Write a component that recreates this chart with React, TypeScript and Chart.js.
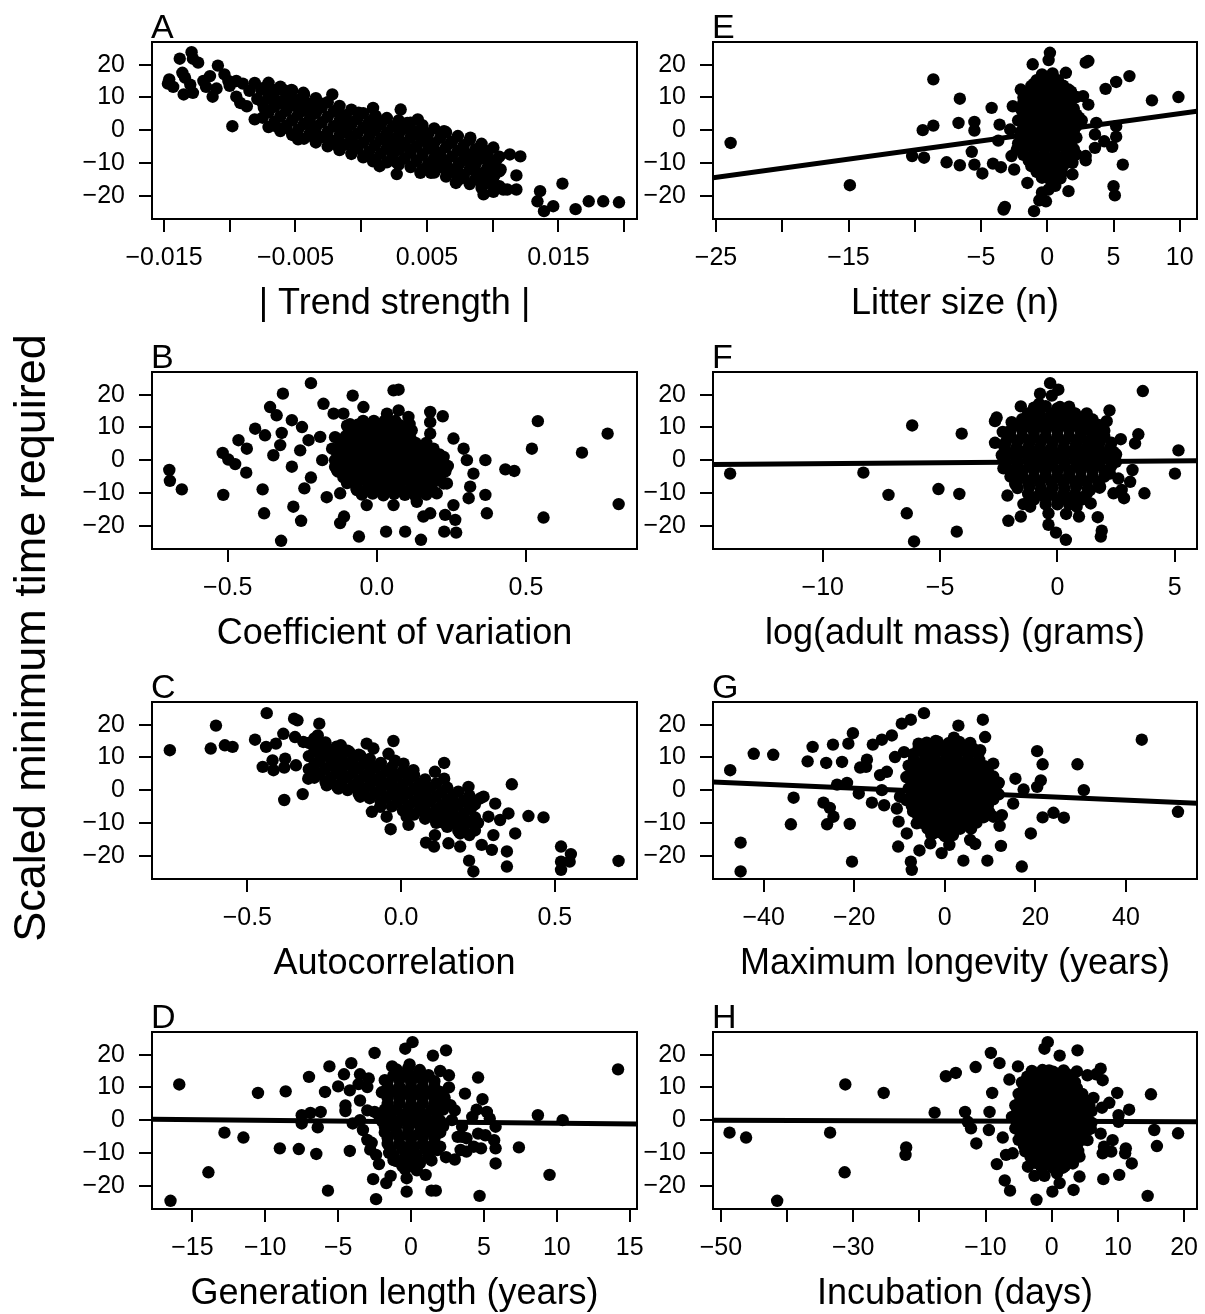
import React, { useEffect, useRef } from "react";
import { Chart, registerables } from "chart.js";

Chart.register(...registerables);

const FONT = "'Liberation Sans', Arial, Helvetica, sans-serif";

// ---------- shared y axis ----------
const yTickValues = [-20, -10, 0, 10, 20];
const yTickLabels = ["\u221220", "\u221210", "0", "10", "20"];
const yLabel = "Scaled minimum time required";

// ---------- Panel A : | Trend strength | ----------
const trendTicks = [-0.015, -0.01, -0.005, 0, 0.005, 0.01, 0.015, 0.02];
const trendTickLabels = ["\u22120.015", "", "\u22120.005", "", "0.005", "", "0.015", ""];
const trendPts: number[][] = [
  [-0.0138, 21.8], [-0.0129, 23.8], [-0.0128, 21.8], [-0.0124, 20.6], [-0.0109, 19.7],
  [-0.0146, 15.5], [-0.0147, 14.2], [-0.0143, 13.2], [-0.0136, 17.5], [-0.0134, 16.0],
  [-0.013, 13.9], [-0.0135, 10.9], [-0.0128, 11.4], [-0.0118, 13.2], [-0.0113, 10.2],
  [-0.011, 12.7], [-0.0104, 17.0], [-0.0101, 15.0], [-0.0095, 15.0], [-0.009, 14.2],
  [-0.0081, 14.4], [-0.0076, 12.3], [-0.0095, 10.2], [-0.0092, 8.3], [-0.0087, 7.3],
  [-0.0079, 9.5], [-0.0074, 6.8], [-0.0081, 3.3], [-0.0098, 1.2], [-0.0065, 12.3],
  [-0.0059, 12.3], [-0.0053, 12.3], [-0.0068, 9.4], [-0.0062, 8.3], [-0.0065, 1.2],
  [-0.0057, 0.7], [-0.0048, -2.8], [-0.0036, -2.3], [-0.0044, 11.4], [-0.0047, 6.3],
  [-0.0036, 7.3], [-0.003, 8.1], [-0.0022, 10.9], [-0.0018, 6.3], [-0.0016, 1.2],
  [-0.0018, -4.7], [-0.0011, 3.3], [-0.0005, -4.4], [-0.0002, 5.3], [0.0009, 6.8],
  [0.0011, 4.3], [0.0004, 1.2], [0.0014, 1.7], [0.0002, -8.0], [0.0009, -9.5],
  [0.0014, -11.0], [0.0022, -5.9], [0.0027, -9.9], [0.003, 6.3], [0.0035, 2.2],
  [0.0043, 3.3], [0.004, -0.8], [0.0045, -13.0], [0.0053, -13.0], [0.005, -3.9],
  [0.0055, -5.9], [0.006, -7.9], [0.0063, -0.3], [0.0068, -3.9], [0.0072, -16.1],
  [0.0075, -10.0], [0.0079, -6.9], [0.0083, -2.3], [0.0085, -11.0], [0.0088, -14.0],
  [0.0093, -5.9], [0.0098, -10.0], [0.0101, -14.0], [0.0103, -8.9], [0.0106, -12.0],
  [0.0093, -19.6], [0.0091, -16.1], [0.0111, -18.1], [0.0113, -7.4], [0.0118, -18.1],
  [0.0118, -13.8], [0.0121, -8.0], [0.0134, -21.7], [0.0136, -18.6], [0.0139, -24.7],
  [0.0146, -23.2], [0.0153, -16.3], [0.0163, -24.1], [0.0173, -21.7], [0.0184, -21.7],
  [0.0196, -22.0], [0.0027, -13.4], [-0.0049, -1.8], [-0.0039, 2.2], [-0.0026, -1.8],
  [-0.0008, -1.8], [0.002, -1.8], [0.0025, 1.2], [0.0032, -3.9], [0.0037, -5.9],
  [0.0045, -1.8], [0.0055, -10.0], [0.0065, -11.0], [0.0086, -7.9], [0.0096, -16.1],
  [0.0103, -17.1], [0.0108, -18.1],
  [-0.0058, 8.0], [-0.005, 9.0], [-0.0042, 6.0], [-0.007, 11.0], [-0.0085, 12.0],
  [-0.01, 13.5], [-0.012, 15.0], [-0.0115, 16.5], [-0.0045, 9.5], [-0.004, 8.0],
  [0.0072, -13.0], [0.0082, -9.0], [0.0095, -13.0], [0.01, -11.5], [0.0078, -14.5],
  // dense band
  [-0.0075, 12.8], [-0.0075, 8.3], [-0.0075, 3.8],
  [-0.0066, 11.6], [-0.0066, 7.1], [-0.0066, 2.6],
  [-0.0057, 10.4], [-0.0057, 5.9], [-0.0057, 1.4],
  [-0.0048, 9.2], [-0.0048, 4.7], [-0.0048, 0.2],
  [-0.0039, 8.1], [-0.0039, 3.6], [-0.0039, -0.9],
  [-0.003, 6.9], [-0.003, 2.4], [-0.003, -2.1],
  [-0.0021, 5.7], [-0.0021, 1.2], [-0.0021, -3.3],
  [-0.0012, 4.6], [-0.0012, 0.1], [-0.0012, -4.4],
  [-0.0003, 3.4], [-0.0003, -1.1], [-0.0003, -5.6],
  [0.0006, 2.5], [0.0006, -2.0], [0.0006, -6.5],
  [0.0015, 1.8], [0.0015, -2.7], [0.0015, -7.2],
  [0.0024, 1.1], [0.0024, -3.4], [0.0024, -7.9],
  [0.0033, 0.4], [0.0033, -4.1], [0.0033, -8.6],
  [0.0042, -0.4], [0.0042, -4.9], [0.0042, -9.4],
  [0.0051, -1.1], [0.0051, -5.6], [0.0051, -10.1],
  [0.006, -2.3], [0.006, -6.8], [0.006, -11.3],
  [0.0069, -3.5], [0.0069, -8.0], [0.0069, -12.5],
  [0.0078, -4.6], [0.0078, -9.1], [0.0078, -13.6],
  [0.0087, -5.8], [0.0087, -10.3], [0.0087, -14.8],
  [0.0096, -7.0], [0.0096, -11.5], [0.0096, -16.0],
  [0.0105, -8.1], [0.0105, -12.6], [0.0105, -17.1],
  [-0.00705, 14.45], [-0.00705, 9.95], [-0.00705, 5.45], [-0.00705, 0.95],
  [-0.00615, 13.25], [-0.00615, 8.75], [-0.00615, 4.25], [-0.00615, -0.25],
  [-0.00525, 12.05], [-0.00525, 7.55], [-0.00525, 3.05], [-0.00525, -1.45],
  [-0.00435, 10.9], [-0.00435, 6.4], [-0.00435, 1.9], [-0.00435, -2.6],
  [-0.00345, 9.75], [-0.00345, 5.25], [-0.00345, 0.75], [-0.00345, -3.75],
  [-0.00255, 8.55], [-0.00255, 4.05], [-0.00255, -0.45], [-0.00255, -4.95],
  [-0.00165, 7.4], [-0.00165, 2.9], [-0.00165, -1.6], [-0.00165, -6.1],
  [-0.00075, 6.25], [-0.00075, 1.75], [-0.00075, -2.75], [-0.00075, -7.25],
  [0.00015, 5.2], [0.00015, 0.7], [0.00015, -3.8], [0.00015, -8.3],
  [0.00105, 4.4], [0.00105, -0.1], [0.00105, -4.6], [0.00105, -9.1],
  [0.00195, 3.7], [0.00195, -0.8], [0.00195, -5.3], [0.00195, -9.8],
  [0.00285, 3.0], [0.00285, -1.5], [0.00285, -6.0], [0.00285, -10.5],
  [0.00375, 2.25], [0.00375, -2.25], [0.00375, -6.75], [0.00375, -11.25],
  [0.00465, 1.5], [0.00465, -3.0], [0.00465, -7.5], [0.00465, -12.0],
  [0.00555, 0.55], [0.00555, -3.95], [0.00555, -8.45], [0.00555, -12.95],
  [0.00645, -0.65], [0.00645, -5.15], [0.00645, -9.65], [0.00645, -14.15],
  [0.00735, -1.8], [0.00735, -6.3], [0.00735, -10.8], [0.00735, -15.3],
  [0.00825, -2.95], [0.00825, -7.45], [0.00825, -11.95], [0.00825, -16.45],
  [0.00915, -4.15], [0.00915, -8.65], [0.00915, -13.15], [0.00915, -17.65],
  [0.01005, -5.3], [0.01005, -9.8], [0.01005, -14.3], [0.01005, -18.8],
];

// ---------- Panel B : Coefficient of variation ----------
const cvTicks = [-0.5, 0, 0.5];
const cvTickLabels = ["\u22120.5", "0.0", "0.5"];
const cvPts: number[][] = [
  [-0.696, -3.0], [-0.694, -6.3], [-0.654, -8.9], [-0.515, -10.6], [-0.517, 2.2],
  [-0.498, 0.2], [-0.475, -1.2], [-0.464, 6.1], [-0.436, 3.5], [-0.438, -3.8],
  [-0.408, 9.6], [-0.375, 7.6], [-0.358, 16.2], [-0.336, 13.7], [-0.315, 20.3],
  [-0.383, -8.9], [-0.378, -16.2], [-0.347, 1.5], [-0.324, 4.6], [-0.319, 8.3],
  [-0.321, -24.6], [-0.285, 12.2], [-0.28, -14.2], [-0.254, -18.5], [-0.285, -2.0],
  [-0.257, 3.0], [-0.243, -8.6], [-0.221, 23.5], [-0.221, -5.3], [-0.179, 17.2],
  [-0.183, 0.0], [-0.229, 6.1], [-0.251, 10.1], [-0.168, -11.3], [-0.123, -19.2],
  [-0.11, -17.2], [-0.081, 19.7], [-0.06, -23.3], [-0.045, 16.2], [-0.034, -13.7],
  [0.031, -21.8], [0.056, 21.3], [0.073, 21.5], [0.095, -21.8], [0.148, -24.3],
  [0.179, 14.7], [0.179, 11.6], [0.179, 8.1], [0.221, 13.4], [0.257, 6.6],
  [0.291, 3.5], [0.302, 0.0], [0.324, -4.1], [0.313, -8.1], [0.308, -11.6],
  [0.364, 0.0], [0.364, -10.6], [0.369, -16.2], [0.257, -13.7], [0.263, -18.2],
  [0.266, -22.1], [0.226, -21.8], [0.229, -16.7], [0.156, -17.2], [0.179, -16.2],
  [0.431, -2.8], [0.461, -3.3], [0.52, 3.5], [0.54, 11.9], [0.559, -17.5],
  [0.688, 2.3], [0.774, 8.1], [0.811, -13.4], [0.056, -13.7], [0.134, -12.7],
  [0.011, -7.1], [-0.145, 14.2], [-0.112, 14.2], [0.034, 14.2], [0.073, 15.2],
  [0.106, 13.2], [0.117, 9.1], [0.19, 3.5], [0.224, 1.0], [0.235, -7.1],
  [0.201, -10.1], [0.162, -9.1], [-0.067, -9.1], [-0.123, -10.1], [-0.134, -3.0],
  [-0.19, 7.1], [-0.09, 11], [0.11, 11], [-0.14, -2], [0.13, -11],
  // dense core
  [-0.1, 10.5], [-0.064, 10.8], [-0.028, 10.3], [0.008, 10.7], [0.044, 10.4], [0.08, 10.6],
  [-0.14, 7], [-0.104, 7.3], [-0.068, 6.8], [-0.032, 7.2], [0.004, 6.9], [0.04, 7.1], [0.076, 7], [0.112, 6.8],
  [-0.15, 3.5], [-0.114, 3.8], [-0.078, 3.3], [-0.042, 3.7], [-0.006, 3.4], [0.03, 3.6], [0.066, 3.5], [0.102, 3.3], [0.138, 3.7], [0.174, 3.4],
  [-0.14, 0], [-0.104, 0.3], [-0.068, -0.2], [-0.032, 0.2], [0.004, -0.1], [0.04, 0.1], [0.076, 0], [0.112, -0.2], [0.148, 0.2], [0.184, -0.1], [0.22, 0.1],
  [-0.13, -3.5], [-0.094, -3.2], [-0.058, -3.7], [-0.022, -3.3], [0.014, -3.6], [0.05, -3.4], [0.086, -3.5], [0.122, -3.7], [0.158, -3.3], [0.194, -3.6], [0.23, -3.4],
  [-0.1, -7], [-0.064, -6.7], [-0.028, -7.2], [0.008, -6.8], [0.044, -7.1], [0.08, -6.9], [0.116, -7], [0.152, -7.2], [0.188, -6.8], [0.224, -7.1],
  [-0.05, -10.5], [-0.014, -10.2], [0.022, -10.7], [0.058, -10.3], [0.094, -10.6], [0.13, -10.4], [0.166, -10.5],
  [-0.046, 12], [-0.01, 12], [0.026, 12], [0.062, 12],
  [-0.082, 8.75], [-0.046, 8.75], [-0.01, 8.75], [0.026, 8.75], [0.062, 8.75], [0.098, 8.75],
  [-0.122, 5.25], [-0.086, 5.25], [-0.05, 5.25], [-0.014, 5.25], [0.022, 5.25], [0.058, 5.25], [0.094, 5.25], [0.13, 5.25], [0.166, 5.25],
  [-0.132, 1.75], [-0.096, 1.75], [-0.06, 1.75], [-0.024, 1.75], [0.012, 1.75], [0.048, 1.75], [0.084, 1.75], [0.12, 1.75], [0.156, 1.75], [0.192, 1.75], [0.21, 1.75],
  [-0.122, -1.75], [-0.086, -1.75], [-0.05, -1.75], [-0.014, -1.75], [0.022, -1.75], [0.058, -1.75], [0.094, -1.75], [0.13, -1.75], [0.166, -1.75], [0.202, -1.75], [0.238, -1.75],
  [-0.112, -5.25], [-0.076, -5.25], [-0.04, -5.25], [-0.004, -5.25], [0.032, -5.25], [0.068, -5.25], [0.104, -5.25], [0.14, -5.25], [0.176, -5.25], [0.212, -5.25],
  [-0.068, -8.75], [-0.032, -8.75], [0.004, -8.75], [0.04, -8.75], [0.076, -8.75], [0.112, -8.75], [0.148, -8.75], [0.184, -8.75],
];

// ---------- Panel C : Autocorrelation ----------
const acTicks = [-0.5, 0, 0.5];
const acTickLabels = ["\u22120.5", "0.0", "0.5"];
const acPts: number[][] = [
  [-0.752, 12.2], [-0.619, 12.7], [-0.602, 19.7], [-0.573, 13.7], [-0.548, 13.2],
  [-0.475, 15.4], [-0.437, 23.5], [-0.439, 13.2], [-0.45, 7.1], [-0.418, 9.1],
  [-0.415, 6.1], [-0.407, 14.2], [-0.383, 17.2], [-0.348, 21.8], [-0.337, 21.3],
  [-0.377, 9.6], [-0.38, 6.9], [-0.342, 7.6], [-0.38, -3.0], [-0.32, -1.2],
  [-0.345, 16.2], [-0.318, 14.7], [-0.266, 20.3], [-0.271, 16.7], [-0.291, 14.2],
  [-0.253, 12.2], [-0.285, 6.1], [-0.302, 3.5], [-0.242, 1.5], [-0.204, 0.5],
  [-0.196, 13.7], [-0.168, 11.6], [-0.215, 7.6], [-0.188, 4.1], [-0.155, 1.0],
  [-0.133, -2.0], [-0.133, 10.6], [-0.112, 14.2], [-0.09, 12.7], [-0.101, 7.1],
  [-0.095, -6.6], [-0.068, -5.1], [-0.047, -8.1], [-0.034, -11.9], [-0.025, 15.0],
  [-0.041, 11.1], [-0.03, 5.1], [0.008, 8.1], [0.04, 6.1], [0.018, -8.1],
  [0.024, -10.6], [0.051, 0.0], [0.073, 2.0], [0.081, -16.0], [0.107, -17.2],
  [0.11, 5.6], [0.14, 8.3], [0.14, 3.5], [0.11, -13.7], [0.159, -5.1],
  [0.176, -10.1], [0.154, -16.2], [0.192, -17.2], [0.219, 1.0], [0.23, -5.1],
  [0.257, -2.5], [0.268, -2.0], [0.306, -4.1], [0.284, -8.1], [0.3, -13.7],
  [0.262, -16.7], [0.295, -18.2], [0.221, -21.5], [0.235, -24.8], [0.344, -18.7],
  [0.344, -23.3], [0.36, 1.8], [0.349, -7.1], [0.322, -9.1], [0.371, -13.2],
  [0.414, -7.9], [0.463, -8.3], [0.52, -17.2], [0.552, -19.5], [0.52, -21.8],
  [0.52, -24.3], [0.548, -21.8], [0.707, -21.6], [0.208, -10.1], [0.192, -13.2],
  [0.094, -3.0], [0.127, -8.1], [0.073, -5.1], [-0.003, -2.0], [-0.025, 1.0],
  [-0.068, 3.0], [-0.112, 4.1], [-0.155, 7.1], [-0.198, 9.1], [-0.231, 10.1],
  [0.25, -10], [0.14, -10], [-0.02, 9], [-0.22, 11],
  // dense band
  [-0.3, 14.4], [-0.3, 10.4], [-0.3, 6.4],
  [-0.264, 13.2], [-0.264, 9.2], [-0.264, 5.2],
  [-0.228, 11.9], [-0.228, 7.9], [-0.228, 3.9],
  [-0.192, 10.7], [-0.192, 6.7], [-0.192, 2.7],
  [-0.156, 9.4], [-0.156, 5.4], [-0.156, 1.4],
  [-0.12, 8.2], [-0.12, 4.2], [-0.12, 0.2],
  [-0.084, 6.9], [-0.084, 2.9], [-0.084, -1.1],
  [-0.048, 5.7], [-0.048, 1.7], [-0.048, -2.3],
  [-0.012, 4.4], [-0.012, 0.4], [-0.012, -3.6],
  [0.024, 3.2], [0.024, -0.8], [0.024, -4.8],
  [0.06, 1.9], [0.06, -2.1], [0.06, -6.1],
  [0.096, 0.7], [0.096, -3.3], [0.096, -7.3],
  [0.132, -0.6], [0.132, -4.6], [0.132, -8.6],
  [0.168, -1.8], [0.168, -5.8], [0.168, -9.8],
  [0.204, -3.1], [0.204, -7.1], [0.204, -11.1],
  [0.24, -4.3], [0.24, -8.3], [0.24, -12.3],
  [-0.282, 15.8], [-0.282, 11.8], [-0.282, 7.8], [-0.282, 3.8],
  [-0.246, 14.55], [-0.246, 10.55], [-0.246, 6.55], [-0.246, 2.55],
  [-0.21, 13.3], [-0.21, 9.3], [-0.21, 5.3], [-0.21, 1.3],
  [-0.174, 12.05], [-0.174, 8.05], [-0.174, 4.05], [-0.174, 0.05],
  [-0.138, 10.8], [-0.138, 6.8], [-0.138, 2.8], [-0.138, -1.2],
  [-0.102, 9.55], [-0.102, 5.55], [-0.102, 1.55], [-0.102, -2.45],
  [-0.066, 8.3], [-0.066, 4.3], [-0.066, 0.3], [-0.066, -3.7],
  [-0.03, 7.05], [-0.03, 3.05], [-0.03, -0.95], [-0.03, -4.95],
  [0.006, 5.8], [0.006, 1.8], [0.006, -2.2], [0.006, -6.2],
  [0.042, 4.55], [0.042, 0.55], [0.042, -3.45], [0.042, -7.45],
  [0.078, 3.3], [0.078, -0.7], [0.078, -4.7], [0.078, -8.7],
  [0.114, 2.05], [0.114, -1.95], [0.114, -5.95], [0.114, -9.95],
  [0.15, 0.8], [0.15, -3.2], [0.15, -7.2], [0.15, -11.2],
  [0.186, -0.45], [0.186, -4.45], [0.186, -8.45], [0.186, -12.45],
  [0.222, -1.7], [0.222, -5.7], [0.222, -9.7], [0.222, -13.7],
];

// ---------- Panel D : Generation length (years) ----------
const genTicks = [-15, -10, -5, 0, 5, 10, 15];
const genTickLabels = ["\u221215", "\u221210", "\u22125", "0", "5", "10", "15"];
const genLineX = [-17.77, 15.5];
const genLineY = [0.3, -1.2];
const genPts: number[][] = [
  [-16.5, -24.6], [-15.9, 10.9], [-13.9, -15.9], [-12.8, -3.8], [-11.5, -5.3],
  [-10.5, 8.3], [-9.0, -8.6], [-8.6, 8.8], [-7.7, -8.8], [-7.5, 1.5],
  [-7.5, -1.0], [-7.0, 13.2], [-6.9, 2.2], [-6.5, -10.3], [-6.4, -2.2],
  [-6.2, 2.5], [-5.9, 8.6], [-5.7, -21.5], [-5.6, 16.4], [-5.0, 10.3],
  [-4.6, 14.0], [-4.5, 2.8], [-4.2, -9.4], [-4.2, 9.1], [-4.1, 17.4],
  [-3.5, 14.0], [-3.3, -3.0], [-3.0, 10.1], [-2.9, 12.7], [-2.7, -6.9],
  [-2.5, 20.5], [-2.5, 2.5], [-2.4, -10.6], [-2.2, -13.4], [-2.6, -18.0],
  [-2.4, -24.1], [-1.7, -19.2], [-1.4, -17.0], [-1.8, 12.2], [-1.3, 16.4],
  [-0.4, 21.8], [0.1, 23.8], [-0.3, -21.8], [-0.3, -17.7], [1.0, -16.7],
  [1.4, -21.5], [1.7, -21.5], [1.5, 19.7], [2.4, 21.3], [2.0, 15.0],
  [2.6, 13.7], [2.3, 6.9], [2.7, 4.6], [2.8, 0.0], [2.4, -11.3],
  [3.2, -5.1], [3.5, -5.1], [3.7, 8.1], [3.4, -9.1], [3.8, -9.6],
  [4.6, 13.0], [4.7, -23.1], [4.9, 6.4], [4.5, 3.2], [5.2, 2.5],
  [5.4, 0.5], [5.8, -2.0], [4.6, -4.1], [5.1, -4.6], [4.8, -8.6],
  [5.7, -6.1], [5.8, -8.6], [5.8, -13.2], [7.4, -8.3], [8.7, 1.5],
  [10.4, 0.0], [9.5, -16.7], [14.2, 15.5], [4.3, -8.1], [1.5, 8.1],
  [1.3, -3.0], [2.0, -8.1], [0.6, -13.2], [-1.2, -12.2], [-1.2, -2.0],
  [-3.5, 0.0], [-4.0, -1.0], [-0.1, 17], [-1.5, -10], [1.4, -8],
  [-3.5, 6], [-3, 3], [3, 3], [3.5, -2], [-3, -6], [3, -12], [-2.8, -9],
  [2.6, 10], [-3.6, 11], [3.8, -5.5], [-4.5, 4.5], [4.2, 1],
  // dense core
  [-1, 15.5], [-0.2, 15.8], [0.6, 15.3],
  [-1.6, 12], [-0.8, 12.3], [0, 11.8], [0.8, 12.2], [1.6, 11.9],
  [-2, 8.5], [-1.2, 8.8], [-0.4, 8.3], [0.4, 8.7], [1.2, 8.4], [2, 8.6],
  [-1.6, 5], [-0.8, 5.3], [0, 4.8], [0.8, 5.2], [1.6, 4.9], [2.4, 5.1],
  [-2.2, 1.5], [-1.4, 1.8], [-0.6, 1.3], [0.2, 1.7], [1, 1.4], [1.8, 1.6],
  [-1.8, -2], [-1, -1.7], [-0.2, -2.2], [0.6, -1.8], [1.4, -2.1], [2.2, -1.9],
  [-1.6, -5.5], [-0.8, -5.2], [0, -5.7], [0.8, -5.3], [1.6, -5.6],
  [-1.4, -9], [-0.6, -8.7], [0.2, -9.2], [1, -8.8], [1.8, -9.1],
  [-1, -12.5], [-0.2, -12.2], [0.6, -12.7], [1.4, -12.3],
  [-0.4, -15], [0.4, -15.3],
  [-1.2, 13.75], [-0.4, 13.75], [0.4, 13.75], [1.2, 13.75],
  [-1.6, 10.25], [-0.8, 10.25], [0, 10.25], [0.8, 10.25], [1.6, 10.25],
  [-1.6, 6.75], [-0.8, 6.75], [0, 6.75], [0.8, 6.75], [1.6, 6.75], [2.2, 6.75],
  [-1.8, 3.25], [-1, 3.25], [-0.2, 3.25], [0.6, 3.25], [1.4, 3.25], [2.2, 3.25],
  [-2, -0.25], [-1.2, -0.25], [-0.4, -0.25], [0.4, -0.25], [1.2, -0.25], [2, -0.25],
  [-1.8, -3.75], [-1, -3.75], [-0.2, -3.75], [0.6, -3.75], [1.4, -3.75], [2, -3.75],
  [-1.6, -7.25], [-0.8, -7.25], [0, -7.25], [0.8, -7.25], [1.6, -7.25],
  [-1.2, -10.75], [-0.4, -10.75], [0.4, -10.75], [1.2, -10.75],
  [-0.6, -14], [0.2, -14],
];

// ---------- Panel E : Litter size (n) ----------
const litterTicks = [-25, -20, -15, -10, -5, 0, 5, 10];
const litterTickLabels = ["\u221225", "", "\u221215", "", "\u22125", "0", "5", "10"];
const litterLineX = [-25.23, 11.3];
const litterLineY = [-14.5, 5.8];
const litterPts: number[][] = [
  [-23.9, -3.9], [-14.9, -16.8], [-8.6, 15.5], [-9.4, 0.0], [-8.6, 1.4],
  [-10.2, -7.9], [-9.3, -8.4], [-7.6, -9.8], [-6.6, 9.6], [-6.7, 2.2],
  [-6.6, -10.7], [-5.5, 2.5], [-5.5, -0.1], [-5.7, -6.6], [-5.5, -10.5],
  [-4.9, -13.2], [-4.2, 6.8], [-4.1, -10.2], [-3.5, -11.3], [-3.6, 1.7],
  [-3.7, -3.2], [-2.8, 0.2], [-2.6, 7.3], [-2.7, -7.9], [-2.5, -12.0],
  [-3.3, -24.2], [-3.2, -23.4], [-2.0, 12.4], [-1.8, 8.3], [-1.1, 20.1],
  [-1.0, 14.2], [-1.5, -16.1], [-1.0, -24.7], [0.2, 23.6], [0.1, 21.4],
  [1.4, 17.5], [2.9, 20.6], [3.1, 21.1], [4.4, 12.6], [5.2, 14.7],
  [6.2, 16.5], [7.9, 9.1], [9.9, 10.1], [2.7, 10.4], [3.1, 7.8],
  [3.7, 2.2], [3.6, -1.3], [4.3, -3.4], [3.6, -5.4], [2.9, -7.9],
  [2.9, -9.2], [5.2, 1.2], [5.2, -2.0], [4.9, -5.1], [5.7, -10.5],
  [5.0, -17.1], [5.1, -19.9], [1.6, -18.6], [0.1, -18.1], [-0.1, -21.7],
  [-0.6, -21.4], [1.9, -13.5], [1.1, -13.0], [-0.3, -13.5], [2.4, 3.8],
  [1.7, 7.8], [1.6, 12.4], [0.7, 15.0], [-0.5, 11.9], [-1.3, 6.3],
  [-1.7, 4.3], [-2.1, -4.9], [-2.3, -5.9], [1.9, -10.0], [1.9, -6.9],
  [0.6, -17], [-0.4, -19], [0.2, -15],
  // dense core
  [-0.4, 17], [0.4, 17.3],
  [-1.2, 13.5], [-0.4, 13.8], [0.4, 13.3], [1.2, 13.6],
  [-1.8, 10], [-1, 10.3], [-0.2, 9.8], [0.6, 10.2], [1.4, 9.9], [2.2, 10.1],
  [-2, 6.5], [-1.2, 6.8], [-0.4, 6.3], [0.4, 6.7], [1.2, 6.4], [2, 6.6],
  [-2.2, 3], [-1.4, 3.3], [-0.6, 2.8], [0.2, 3.2], [1, 2.9], [1.8, 3.1], [2.6, 3],
  [-2, -0.5], [-1.2, -0.2], [-0.4, -0.7], [0.4, -0.3], [1.2, -0.6], [2, -0.4],
  [-2.2, -4], [-1.4, -3.7], [-0.6, -4.2], [0.2, -3.8], [1, -4.1], [1.8, -3.9],
  [-1.8, -7.5], [-1, -7.2], [-0.2, -7.7], [0.6, -7.3], [1.4, -7.6], [2.2, -7.4],
  [-1.2, -11], [-0.4, -10.7], [0.4, -11.2], [1.2, -10.8],
  [-0.4, -14.5], [0.4, -14.2], [1, -14.7],
  [-0.8, 15.25], [0, 15.25], [0.8, 15.25],
  [-1.4, 11.75], [-0.6, 11.75], [0.2, 11.75], [1.0, 11.75], [1.8, 11.75],
  [-1.6, 8.25], [-0.8, 8.25], [0, 8.25], [0.8, 8.25], [1.6, 8.25],
  [-1.8, 4.75], [-1, 4.75], [-0.2, 4.75], [0.6, 4.75], [1.4, 4.75], [2.2, 4.75],
  [-1.8, 1.25], [-1, 1.25], [-0.2, 1.25], [0.6, 1.25], [1.4, 1.25], [2.2, 1.25],
  [-1.8, -2.25], [-1, -2.25], [-0.2, -2.25], [0.6, -2.25], [1.4, -2.25], [2.2, -2.25],
  [-1.8, -5.75], [-1, -5.75], [-0.2, -5.75], [0.6, -5.75], [1.4, -5.75], [2.0, -5.75],
  [-1.4, -9.25], [-0.6, -9.25], [0.2, -9.25], [1.0, -9.25], [1.8, -9.25],
  [-0.8, -12.75], [0, -12.75], [0.8, -12.75],
];

// ---------- Panel F : log(adult mass) (grams) ----------
const massTicks = [-10, -5, 0, 5];
const massTickLabels = ["\u221210", "\u22125", "0", "5"];
const massLineX = [-14.68, 5.95];
const massLineY = [-1.3, -0.2];
const massPts: number[][] = [
  [-13.95, -4.1], [-8.27, -3.8], [-7.2, -10.6], [-6.42, -16.2], [-6.11, -24.8],
  [-6.19, 10.6], [-5.07, -8.8], [-4.18, -10.3], [-4.29, -21.8], [-4.08, 8.1],
  [-0.31, 23.5], [0.04, 21.5], [-0.24, 19.7], [-0.74, 20.3], [-0.78, 17.2],
  [-1.56, 16.4], [-2.59, 13.0], [-2.66, 11.9], [-1.95, 11.6], [-2.33, 8.6],
  [-2.66, 5.3], [-2.37, 1.5], [-2.3, -2.5], [-2.13, -10.8], [-2.09, -18.5],
  [-1.56, -17.2], [-1.45, -13.4], [-1.16, -14.2], [-1.8, -7.3], [-0.38, -16.2],
  [-0.38, -19.7], [-0.06, -22.1], [0.36, -24.3], [0.37, -16.4], [0.92, -17.2],
  [1.72, -17.4], [1.89, -21.5], [1.85, -23.3], [1.42, -13.2], [1.39, -9.1],
  [1.82, -8.1], [2.39, -10.1], [2.84, -11.6], [2.74, -9.1], [3.1, -6.6],
  [3.2, -3.0], [3.71, -10.1], [2.6, -5.6], [2.24, -4.1], [2.5, -0.5],
  [2.39, 2.5], [2.7, 6.4], [3.31, 5.1], [3.45, 7.9], [3.64, 21.1],
  [5.16, 3.0], [5.01, -4.1], [1.89, 7.6], [2.22, 15.2], [2.1, 11.9],
  [1.25, 13.0], [0.75, 14.2], [1.53, 4.1], [1.11, 9.1], [0.11, 16.2],
  [-1.02, 14.2], [0.82, -14.2], [0.4, -12.2], [-1.16, -11.1], [-1.73, -3.0],
  [-0.3, -10], [0.5, -12.5], [-0.8, 14], [0.4, 13],
  // dense core
  [-1, 16], [-0.5, 16.5], [0, 15.8], [0.5, 16.3],
  [-1.5, 12.5], [-1, 12.9], [-0.5, 12.2], [0, 12.6], [0.5, 12.3], [1, 12.8], [1.5, 12.4],
  [-2, 9], [-1.5, 9.3], [-1, 8.8], [-0.5, 9.2], [0, 8.9], [0.5, 9.4], [1, 8.7], [1.5, 9.1], [2, 9],
  [-2.2, 5.5], [-1.7, 5.8], [-1.2, 5.3], [-0.7, 5.6], [-0.2, 5.4], [0.3, 5.7], [0.8, 5.2], [1.3, 5.6], [1.8, 5.5], [2.3, 5.3],
  [-2, 2], [-1.5, 2.3], [-1, 1.8], [-0.5, 2.2], [0, 1.9], [0.5, 2.4], [1, 1.7], [1.5, 2.1], [2, 2], [2.5, 1.8],
  [-2.2, -1.5], [-1.7, -1.2], [-1.2, -1.7], [-0.7, -1.3], [-0.2, -1.6], [0.3, -1.1], [0.8, -1.8], [1.3, -1.4], [1.8, -1.5], [2.3, -1.7],
  [-2, -5], [-1.5, -4.7], [-1, -5.2], [-0.5, -4.8], [0, -5.1], [0.5, -4.6], [1, -5.3], [1.5, -4.9], [2, -5],
  [-1.7, -8.5], [-1.2, -8.2], [-0.7, -8.7], [-0.2, -8.3], [0.3, -8.6], [0.8, -8.1], [1.3, -8.8], [1.8, -8.4],
  [-1, -12], [-0.5, -11.7], [0, -12.2], [0.5, -11.8], [1, -12.1],
  [-1.25, 14.25], [-0.75, 14.25], [-0.25, 14.25], [0.25, 14.25], [0.75, 14.25], [1.25, 14.25],
  [-1.75, 10.75], [-1.25, 10.75], [-0.75, 10.75], [-0.25, 10.75], [0.25, 10.75], [0.75, 10.75], [1.25, 10.75], [1.75, 10.75],
  [-2.0, 7.25], [-1.5, 7.25], [-1, 7.25], [-0.5, 7.25], [0, 7.25], [0.5, 7.25], [1, 7.25], [1.5, 7.25], [2.0, 7.25],
  [-2.25, 3.75], [-1.75, 3.75], [-1.25, 3.75], [-0.75, 3.75], [-0.25, 3.75], [0.25, 3.75], [0.75, 3.75], [1.25, 3.75], [1.75, 3.75], [2.25, 3.75],
  [-2.25, 0.25], [-1.75, 0.25], [-1.25, 0.25], [-0.75, 0.25], [-0.25, 0.25], [0.25, 0.25], [0.75, 0.25], [1.25, 0.25], [1.75, 0.25], [2.25, 0.25],
  [-2.0, -3.25], [-1.5, -3.25], [-1, -3.25], [-0.5, -3.25], [0, -3.25], [0.5, -3.25], [1, -3.25], [1.5, -3.25], [2.0, -3.25],
  [-1.75, -6.75], [-1.25, -6.75], [-0.75, -6.75], [-0.25, -6.75], [0.25, -6.75], [0.75, -6.75], [1.25, -6.75], [1.75, -6.75],
  [-1.25, -10.25], [-0.75, -10.25], [-0.25, -10.25], [0.25, -10.25], [0.75, -10.25], [1.25, -10.25],
  [-0.5, -13.5], [0, -13.5], [0.5, -13.5],
];

// ---------- Panel G : Maximum longevity (years) ----------
const longTicks = [-40, -20, 0, 20, 40];
const longTickLabels = ["\u221240", "\u221220", "0", "20", "40"];
const longLineX = [-51.2, 55.7];
const longLineY = [2.5, -4.0];
const longPts: number[][] = [
  [-47.4, 6.1], [-45.1, -16.0], [-45.1, -24.8], [-42.2, 11.1], [-37.9, 10.8],
  [-33.4, -2.3], [-34.0, -10.4], [-30.3, 8.8], [-29.2, 13.2], [-26.2, 8.3],
  [-24.7, 13.9], [-22.7, 8.6], [-21.3, 14.2], [-20.3, 17.4], [-21.0, -10.3],
  [-20.5, -21.8], [-26.8, -3.8], [-25.4, -5.4], [-24.6, -8.1], [-26.0, -10.4],
  [-23.8, 1.7], [-21.6, 2.2], [-19.0, -1.0], [-18.7, 6.9], [-17.2, 9.3],
  [-15.9, 13.9], [-13.9, 15.4], [-11.7, 16.7], [-9.5, 20.3], [-7.5, 21.5],
  [-4.6, 23.5], [-16.1, -3.8], [-13.4, -4.6], [-10.6, -5.6], [-10.2, -9.6],
  [-10.3, -17.2], [-7.5, -21.8], [-7.3, -24.3], [-5.6, -18.4], [-8.4, -13.2],
  [-5.8, 14.2], [-9.0, 11.6], [-11.0, 10.1], [-12.8, 5.6], [-8.0, 3.8],
  [-0.7, -19.2], [1.0, -16.7], [4.1, -21.5], [3.0, 19.7], [8.4, 21.5],
  [8.9, 16.2], [7.8, 12.2], [10.7, 8.1], [6.7, -16.4], [9.4, -21.5],
  [12.4, -17.0], [17.0, -23.3], [19.0, -13.2], [12.1, -10.9], [12.6, -7.6],
  [15.1, -4.1], [17.4, 0.2], [15.6, 3.5], [11.8, 2.2], [20.4, 11.9],
  [21.6, 7.9], [21.2, 3.0], [20.4, 1.0], [21.6, -8.3], [24.0, -6.9],
  [26.3, -8.4], [29.3, 7.9], [30.7, 0.0], [43.5, 15.4], [51.5, -6.6],
  [9.3, -5.1], [10.7, -8.1], [5.6, -15.2], [-2.5, -13.2], [-3.2, -16.2],
  [-6.2, -10.1], [-6.2, 0.0], [-9.9, -2.0], [-13.9, 0.0], [-17.4, 7.1],
  [-14.3, 4.6], [-2, 15], [2, 16], [0, -14],
  // dense core
  [-4, 14.5], [-1.6, 14.8], [0.8, 14.3], [3.2, 14.7], [5.6, 14.4],
  [-7, 11], [-4.6, 11.3], [-2.2, 10.8], [0.2, 11.2], [2.6, 10.9], [5, 11.1], [7.4, 11],
  [-8, 7.5], [-5.6, 7.8], [-3.2, 7.3], [-0.8, 7.7], [1.6, 7.4], [4, 7.6], [6.4, 7.5], [8.8, 7.3],
  [-8.5, 4], [-6.1, 4.3], [-3.7, 3.8], [-1.3, 4.2], [1.1, 3.9], [3.5, 4.1], [5.9, 4], [8.3, 3.8], [10.7, 4.2],
  [-8, 0.5], [-5.6, 0.8], [-3.2, 0.3], [-0.8, 0.7], [1.6, 0.4], [4, 0.6], [6.4, 0.5], [8.8, 0.3], [11.2, 0.7],
  [-8.5, -3], [-6.1, -2.7], [-3.7, -3.2], [-1.3, -2.8], [1.1, -3.1], [3.5, -2.9], [5.9, -3], [8.3, -3.2], [10.7, -2.8],
  [-7, -6.5], [-4.6, -6.2], [-2.2, -6.7], [0.2, -6.3], [2.6, -6.6], [5, -6.4], [7.4, -6.5], [9.8, -6.7],
  [-5, -10], [-2.6, -9.7], [-0.2, -10.2], [2.2, -9.8], [4.6, -10.1], [7, -9.9],
  [-3, -13.5], [-0.6, -13.2], [1.8, -13.7],
  [-5.8, 12.75], [-3.4, 12.75], [-1, 12.75], [1.4, 12.75], [3.8, 12.75], [6.2, 12.75],
  [-6.8, 9.25], [-4.4, 9.25], [-2, 9.25], [0.4, 9.25], [2.8, 9.25], [5.2, 9.25], [7.6, 9.25],
  [-7.3, 5.75], [-4.9, 5.75], [-2.5, 5.75], [-0.1, 5.75], [2.3, 5.75], [4.7, 5.75], [7.1, 5.75], [9.5, 5.75],
  [-7.3, 2.25], [-4.9, 2.25], [-2.5, 2.25], [-0.1, 2.25], [2.3, 2.25], [4.7, 2.25], [7.1, 2.25], [9.5, 2.25], [11.9, 2.25],
  [-7.3, -1.25], [-4.9, -1.25], [-2.5, -1.25], [-0.1, -1.25], [2.3, -1.25], [4.7, -1.25], [7.1, -1.25], [9.5, -1.25], [11.9, -1.25],
  [-7.3, -4.75], [-4.9, -4.75], [-2.5, -4.75], [-0.1, -4.75], [2.3, -4.75], [4.7, -4.75], [7.1, -4.75], [9.5, -4.75],
  [-5.8, -8.25], [-3.4, -8.25], [-1, -8.25], [1.4, -8.25], [3.8, -8.25], [6.2, -8.25], [8.6, -8.25],
  [-3.8, -11.75], [-1.4, -11.75], [1, -11.75], [3.4, -11.75], [5.8, -11.75],
];

// ---------- Panel H : Incubation (days) ----------
const incTicks = [-50, -40, -30, -20, -10, 0, 10, 20];
const incTickLabels = ["\u221250", "", "\u221230", "", "\u221210", "0", "10", "20"];
const incLineX = [-51.2, 21.96];
const incLineY = [0.0, -0.5];
const incPts: number[][] = [
  [-48.7, -3.8], [-46.2, -5.3], [-41.5, -24.6], [-33.5, -3.8], [-31.2, 10.9],
  [-31.3, -15.9], [-25.4, 8.3], [-22.0, -8.3], [-22.1, -10.6], [-17.7, 2.3],
  [-16.0, 13.4], [-14.5, 14.4], [-11.5, 16.2], [-13.1, 2.5], [-12.7, -0.5],
  [-12.2, -2.5], [-11.4, -7.1], [-9.5, -3.0], [-9.2, 20.5], [-9.0, 8.3],
  [-9.4, 2.5], [-7.9, 17.4], [-7.4, -5.3], [-8.3, -13.4], [-7.1, -18.4],
  [-6.3, -21.5], [-6.9, -10.6], [-5.9, -10.1], [-6.4, 12.4], [-5.1, 16.4],
  [-3.6, -14.2], [-2.6, -17.0], [-2.3, -24.3], [-1.1, -17.0], [-1.1, 21.8],
  [-0.6, 23.8], [1.2, 19.7], [0.1, -21.8], [1.2, -19.2], [0.8, -16.2],
  [3.3, -21.3], [4.2, -17.2], [3.9, 21.3], [3.8, 14.9], [5.4, 13.7],
  [6.7, 14.0], [7.4, 15.7], [7.7, 12.2], [3.7, 8.6], [6.3, 6.8],
  [7.6, 3.8], [9.9, 8.3], [8.7, 5.3], [11.7, 3.2], [10.1, 1.5],
  [10.1, -0.5], [5.9, -2.5], [7.4, -4.1], [9.2, -6.1], [7.9, -8.1],
  [7.7, -10.1], [9.0, -9.6], [11.2, -8.6], [11.1, -10.1], [12.1, -13.2],
  [10.2, -16.7], [7.8, -18.0], [4.2, -11.1], [5.4, -6.1], [15.0, 7.9],
  [15.5, -3.0], [15.9, -7.9], [14.5, -23.1], [19.1, -4.0], [3.2, -13.2],
  [-3.6, -7.1], [-4.9, 5.1], [-5.4, 0.0], [-2.9, 10.1], [2.2, 14.2],
  [-0.4, 15.2], [-2, 13], [2, -14], [-1, -13],
  // dense core
  [-3, 15], [-1.4, 15.3], [0.2, 14.8], [1.8, 15.2],
  [-4.5, 11.5], [-2.9, 11.8], [-1.3, 11.3], [0.3, 11.7], [1.9, 11.4], [3.5, 11.6],
  [-5, 8], [-3.4, 8.3], [-1.8, 7.8], [-0.2, 8.2], [1.4, 7.9], [3, 8.1], [4.6, 8],
  [-5.5, 4.5], [-3.9, 4.8], [-2.3, 4.3], [-0.7, 4.7], [0.9, 4.4], [2.5, 4.6], [4.1, 4.5], [5.7, 4.3],
  [-6, 1], [-4.4, 1.3], [-2.8, 0.8], [-1.2, 1.2], [0.4, 0.9], [2, 1.1], [3.6, 1], [5.2, 0.8],
  [-5.5, -2.5], [-3.9, -2.2], [-2.3, -2.7], [-0.7, -2.3], [0.9, -2.6], [2.5, -2.4], [4.1, -2.5], [5.7, -2.7],
  [-5, -6], [-3.4, -5.7], [-1.8, -6.2], [-0.2, -5.8], [1.4, -6.1], [3, -5.9], [4.6, -6],
  [-4, -9.5], [-2.4, -9.2], [-0.8, -9.7], [0.8, -9.3], [2.4, -9.6], [4, -9.4],
  [-2.5, -13], [-0.9, -12.7], [0.7, -13.2], [2.3, -12.8],
  [-3.7, 13.25], [-2.1, 13.25], [-0.5, 13.25], [1.1, 13.25], [2.7, 13.25],
  [-4.2, 9.75], [-2.6, 9.75], [-1, 9.75], [0.6, 9.75], [2.2, 9.75], [3.8, 9.75],
  [-4.7, 6.25], [-3.1, 6.25], [-1.5, 6.25], [0.1, 6.25], [1.7, 6.25], [3.3, 6.25], [4.9, 6.25],
  [-5.2, 2.75], [-3.6, 2.75], [-2, 2.75], [-0.4, 2.75], [1.2, 2.75], [2.8, 2.75], [4.4, 2.75], [6, 2.75],
  [-5.2, -0.75], [-3.6, -0.75], [-2, -0.75], [-0.4, -0.75], [1.2, -0.75], [2.8, -0.75], [4.4, -0.75], [6, -0.75],
  [-4.7, -4.25], [-3.1, -4.25], [-1.5, -4.25], [0.1, -4.25], [1.7, -4.25], [3.3, -4.25], [4.9, -4.25],
  [-4.2, -7.75], [-2.6, -7.75], [-1, -7.75], [0.6, -7.75], [2.2, -7.75], [3.8, -7.75],
  [-3.2, -11.25], [-1.6, -11.25], [0, -11.25], [1.6, -11.25], [3.2, -11.25],
  [-1.5, -14.5], [0.1, -14.5], [1.7, -14.5],
];

// ---------- layout ----------
const PAD_L = 100;
const PAD_R = 30;
const PAD_T = 44;
const PAD_B = 130;
const BOX_H = 177;

type PanelDef = {
  letter: string;
  title: string;
  boxLeft: number;
  boxTop: number;
  boxW: number;
  xMin: number;
  xMax: number;
  ticks: number[];
  tickLabels: string[];
  pts: number[][];
  lineX?: number[];
  lineY?: number[];
};

const panels: PanelDef[] = [
  { letter: "A", title: "| Trend strength |", boxLeft: 152, boxTop: 42, boxW: 485, xMin: -0.01591, xMax: 0.02097, ticks: trendTicks, tickLabels: trendTickLabels, pts: trendPts },
  { letter: "B", title: "Coefficient of variation", boxLeft: 152, boxTop: 372, boxW: 485, xMin: -0.754, xMax: 0.8725, ticks: cvTicks, tickLabels: cvTickLabels, pts: cvPts },
  { letter: "C", title: "Autocorrelation", boxLeft: 152, boxTop: 702, boxW: 485, xMin: -0.81, xMax: 0.767, ticks: acTicks, tickLabels: acTickLabels, pts: acPts },
  { letter: "D", title: "Generation length (years)", boxLeft: 152, boxTop: 1032, boxW: 485, xMin: -17.77, xMax: 15.5, ticks: genTicks, tickLabels: genTickLabels, pts: genPts, lineX: genLineX, lineY: genLineY },
  { letter: "E", title: "Litter size (n)", boxLeft: 713, boxTop: 42, boxW: 484, xMin: -25.23, xMax: 11.3, ticks: litterTicks, tickLabels: litterTickLabels, pts: litterPts, lineX: litterLineX, lineY: litterLineY },
  { letter: "F", title: "log(adult mass) (grams)", boxLeft: 713, boxTop: 372, boxW: 484, xMin: -14.68, xMax: 5.95, ticks: massTicks, tickLabels: massTickLabels, pts: massPts, lineX: massLineX, lineY: massLineY },
  { letter: "G", title: "Maximum longevity (years)", boxLeft: 713, boxTop: 702, boxW: 484, xMin: -51.2, xMax: 55.7, ticks: longTicks, tickLabels: longTickLabels, pts: longPts, lineX: longLineX, lineY: longLineY },
  { letter: "H", title: "Incubation (days)", boxLeft: 713, boxTop: 1032, boxW: 484, xMin: -51.2, xMax: 21.96, ticks: incTicks, tickLabels: incTickLabels, pts: incPts, lineX: incLineX, lineY: incLineY },
];

function Panel({ p }: { p: PanelDef }) {
  const ref = useRef<HTMLCanvasElement | null>(null);
  const width = PAD_L + p.boxW + PAD_R;
  const height = PAD_T + BOX_H + PAD_B;

  useEffect(() => {
    const canvas = ref.current;
    if (!canvas) return;
    const datasets: any[] = [];
    if (p.lineX && p.lineY) {
      datasets.push({
        data: p.lineX.map((x, i) => ({ x, y: p.lineY![i] })),
        showLine: true,
        borderColor: "#000",
        borderWidth: 5,
        pointRadius: 0,
        pointHoverRadius: 0,
        order: 0,
      });
    }
    datasets.push({
      data: p.pts.map(([x, y]) => ({ x, y })),
      backgroundColor: "#000",
      borderColor: "#000",
      borderWidth: 0,
      pointRadius: 6.2,
      pointHoverRadius: 6.2,
      order: 1,
    });

    const decor = {
      id: "decor",
      afterDraw(chart: any) {
        const { ctx, chartArea } = chart;
        ctx.save();
        ctx.strokeStyle = "#000";
        ctx.lineWidth = 2;
        ctx.strokeRect(chartArea.left, chartArea.top, chartArea.right - chartArea.left, chartArea.bottom - chartArea.top);
        ctx.fillStyle = "#000";
        ctx.font = `34px ${FONT}`;
        ctx.textAlign = "left";
        ctx.textBaseline = "alphabetic";
        ctx.fillText(p.letter, chartArea.left - 1, chartArea.top - 4);
        ctx.restore();
      },
    };

    const chart = new Chart(canvas, {
      type: "scatter",
      data: { datasets },
      options: {
        animation: false,
        responsive: false,
        devicePixelRatio: 1,
        events: [],
        layout: { padding: { top: PAD_T, right: PAD_R, left: 0, bottom: 0 } },
        plugins: { legend: { display: false }, tooltip: { enabled: false }, title: { display: false } },
        scales: {
          x: {
            type: "linear",
            position: "bottom",
            min: p.xMin,
            max: p.xMax,
            afterBuildTicks: (axis: any) => {
              axis.ticks = p.ticks.map((v) => ({ value: v }));
            },
            afterFit: (axis: any) => {
              axis.height = PAD_B;
            },
            ticks: {
              autoSkip: false,
              maxRotation: 0,
              minRotation: 0,
              padding: 11,
              color: "#000",
              font: { size: 25, family: FONT },
              callback: (_v: any, i: number) => p.tickLabels[i],
            },
            grid: { display: true, drawOnChartArea: false, drawTicks: true, tickLength: 13, lineWidth: 2, tickWidth: 2, tickColor: "#000", color: "#000" },
            border: { display: false },
            title: { display: true, text: p.title, color: "#000", font: { size: 36, family: FONT }, padding: { top: 0, bottom: 23 } },
          },
          y: {
            type: "linear",
            position: "left",
            min: -27.1,
            max: 26.9,
            afterBuildTicks: (axis: any) => {
              axis.ticks = yTickValues.map((v) => ({ value: v }));
            },
            afterFit: (axis: any) => {
              axis.width = PAD_L;
            },
            ticks: {
              autoSkip: false,
              padding: 14,
              color: "#000",
              font: { size: 25, family: FONT },
              callback: (_v: any, i: number) => yTickLabels[i],
            },
            grid: { display: true, drawOnChartArea: false, drawTicks: true, tickLength: 13, lineWidth: 2, tickWidth: 2, tickColor: "#000", color: "#000" },
            border: { display: false },
          },
        },
      } as any,
      plugins: [decor],
    });
    return () => chart.destroy();
  }, [p]);

  return (
    <canvas
      ref={ref}
      width={width}
      height={height}
      style={{ position: "absolute", left: p.boxLeft - PAD_L, top: p.boxTop - PAD_T, width, height }}
    />
  );
}

export default function App() {
  return (
    <div style={{ position: "absolute", left: 0, top: 0, width: 1205, height: 1314, background: "#fff", overflow: "hidden", fontFamily: FONT }}>
      {panels.map((p) => (
        <Panel key={p.letter} p={p} />
      ))}
      <div
        style={{
          position: "absolute",
          left: 30.4 - 350,
          top: 637.5 - 27,
          width: 700,
          height: 54,
          lineHeight: "54px",
          fontSize: 45,
          fontFamily: FONT,
          color: "#000",
          textAlign: "center",
          whiteSpace: "nowrap",
          transform: "rotate(-90deg)",
        }}
      >
        {yLabel}
      </div>
    </div>
  );
}
